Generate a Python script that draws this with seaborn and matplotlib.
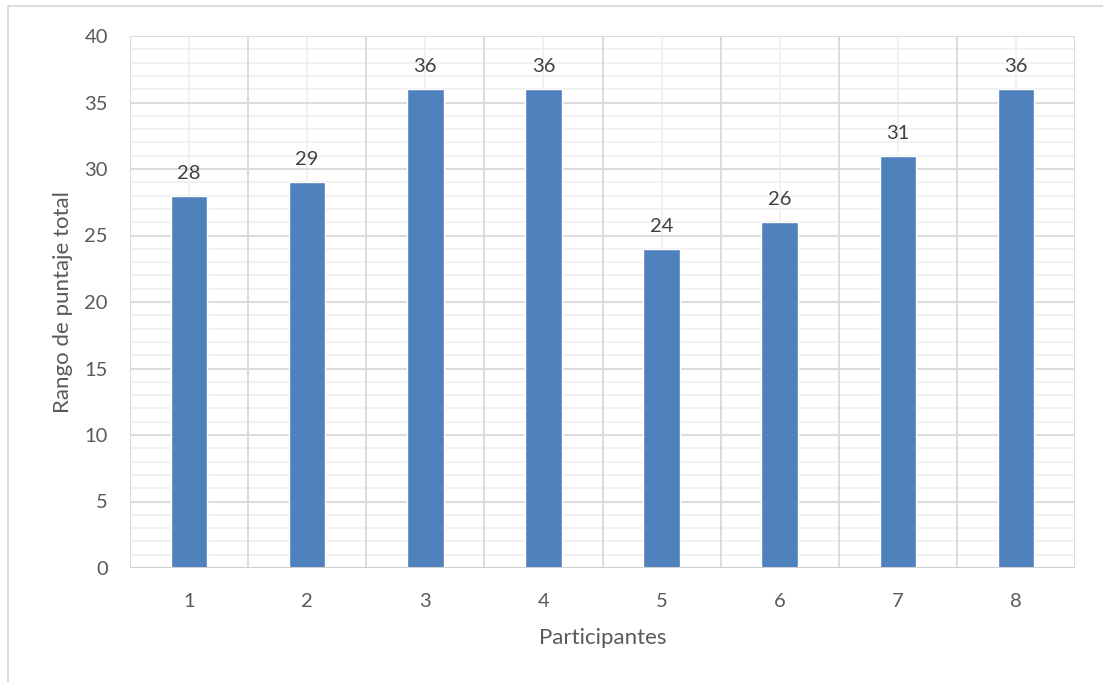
import matplotlib
matplotlib.use("Agg")
import matplotlib.pyplot as plt
from matplotlib.lines import Line2D
from matplotlib.ticker import MultipleLocator
import seaborn as sns
import pandas as pd

participantes = ["1", "2", "3", "4", "5", "6", "7", "8"]
puntajes = [28, 29, 36, 36, 24, 26, 31, 36]

sns.set_theme(style="white")
plt.rcParams["font.family"] = ["Lato", "DejaVu Sans"]

df = pd.DataFrame({"Participantes": participantes, "Puntaje": puntajes})

W, H = 1103, 682
fig = plt.figure(figsize=(W / 100, H / 100), dpi=100)
ax = fig.add_axes([130 / W, 1 - 568 / H, (1075 - 130) / W, (568 - 36) / H])

bar_color = "#4f81bd"
sns.barplot(data=df, x="Participantes", y="Puntaje", color=bar_color,
            width=0.31, saturation=1, ax=ax, zorder=3)

n = len(participantes)
ax.set_xlim(-0.5, n - 0.5)
ax.set_ylim(0, 40)

# gridlines: category boundaries and every 5 units (major), centers and each unit (minor)
major_c, minor_c = "#d9d9d9", "#f0f0f0"
for y in range(0, 41):
    if y % 5 == 0:
        ax.axhline(y, color=major_c, lw=1.3, zorder=1)
    else:
        ax.axhline(y, color=minor_c, lw=1.3, zorder=0.5)
for i in range(n + 1):
    ax.axvline(i - 0.5, color=major_c, lw=1.3, zorder=1)
for i in range(n):
    ax.axvline(i, color=minor_c, lw=1.3, zorder=0.5)

for s in ax.spines.values():
    s.set_visible(False)
ax.axhline(0, color="#d0d0d0", lw=1.5, zorder=4)

ax.yaxis.set_major_locator(MultipleLocator(5))
ax.tick_params(axis="both", length=0, labelsize=14.5, colors="#595959")
ax.tick_params(axis="x", pad=18)
ax.tick_params(axis="y", pad=16)

ax.set_xlabel("Participantes", fontsize=16, color="#595959", labelpad=13)
ax.set_ylabel("Rango de puntaje total", fontsize=16, color="#595959", labelpad=8)

for i, v in enumerate(puntajes):
    ax.annotate(str(v), (i, v), xytext=(0, 10), textcoords="offset points",
                ha="center", va="bottom", fontsize=14.5, color="#404040")

# outer chart frame
fx, fy = 8 / W, 1 - 6 / H
fig.add_artist(Line2D([fx, 1], [fy, fy], transform=fig.transFigure, color="#d9d9d9", lw=1.3))
fig.add_artist(Line2D([fx, fx], [0, fy], transform=fig.transFigure, color="#d9d9d9", lw=1.3))

fig.savefig("out.png", dpi=100)
